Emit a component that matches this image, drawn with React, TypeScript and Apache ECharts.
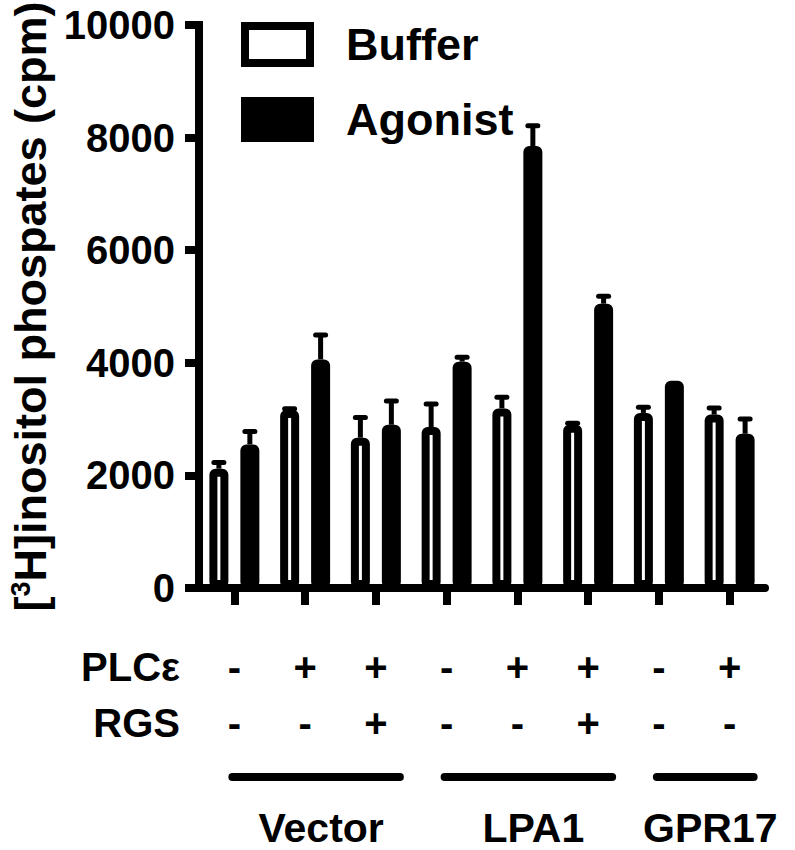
import React, { useEffect, useRef } from 'react';
import * as echarts from 'echarts';

const FONT = '"Liberation Sans", Arial, Helvetica, sans-serif';

const categories = [
  'Vector PLCε- RGS-',
  'Vector PLCε+ RGS-',
  'Vector PLCε+ RGS+',
  'LPA1 PLCε- RGS-',
  'LPA1 PLCε+ RGS-',
  'LPA1 PLCε+ RGS+',
  'GPR17 PLCε- RGS-',
  'GPR17 PLCε+ RGS-',
];
const plcRow = ['-', '+', '+', '-', '+', '+', '-', '+'];
const rgsRow = ['-', '-', '+', '-', '-', '+', '-', '-'];

const bufferMean = [2120, 3160, 2670, 2860, 3190, 2900, 3110, 3080];
const bufferErr = [110, 25, 360, 410, 200, 25, 100, 115];
const agonistMean = [2550, 4060, 2900, 4020, 7850, 5050, 3680, 2740];
const agonistErr = [230, 435, 420, 80, 360, 130, 0, 260];

const yMin = 0;
const yMax = 10000;
const yInterval = 2000;

const groups = [
  { name: 'Vector', from: 0, to: 2 },
  { name: 'LPA1', from: 3, to: 5 },
  { name: 'GPR17', from: 6, to: 7 },
];

const BAR_W = 19;
const BAR_GAP = 0.63;
const HALF_OFF = (BAR_W + BAR_W * BAR_GAP) / 2;

function errRenderer(side: number) {
  return (params: any, api: any) => {
    const i = api.value(0);
    const m = api.value(1);
    const e = api.value(2);
    if (!e) return null;
    const base = api.coord([i, m]);
    const top = api.coord([i, m + e]);
    const x = base[0] + side * HALF_OFF;
    return {
      type: 'group',
      children: [
        {
          type: 'line',
          shape: { x1: x, y1: base[1], x2: x, y2: top[1] },
          style: { stroke: '#000', lineWidth: 5 },
        },
        {
          type: 'line',
          shape: { x1: x - 5, y1: top[1], x2: x + 5, y2: top[1] },
          style: { stroke: '#000', lineWidth: 5, lineCap: 'round' },
        },
      ],
    };
  };
}

export default function App() {
  const ref = useRef<HTMLDivElement>(null);
  useEffect(() => {
    if (!ref.current) return;
    const chart = echarts.init(ref.current, undefined, { renderer: 'svg' });
    const option: any = {
      animation: false,
      backgroundColor: '#fff',
      textStyle: { fontFamily: FONT },
      grid: { left: 199, right: 30, top: 25, bottom: 262, containLabel: false, outerBoundsMode: 'none' },
      legend: {
        data: ['Buffer', 'Agonist'],
        orient: 'vertical',
        left: 241,
        top: 22,
        padding: 0,
        icon: 'rect',
        itemWidth: 65,
        itemHeight: 37,
        itemGap: 30,
        itemStyle: { borderWidth: 8, borderColor: '#000' },
        textStyle: {
          fontFamily: FONT,
          fontSize: 45,
          fontWeight: 'bold',
          color: '#000',
          lineHeight: 37,
          padding: [0, 0, 0, 31],
        },
        selectedMode: false,
      },
      xAxis: {
        type: 'category',
        data: categories,
        axisLine: { show: true, lineStyle: { color: '#000', width: 8 } },
        axisTick: { show: true, alignWithLabel: true, length: 17, lineStyle: { color: '#000', width: 8 } },
        axisLabel: {
          interval: 0,
          margin: 51,
          fontFamily: FONT,
          fontSize: 40,
          fontWeight: 'bold',
          color: '#000',
          lineHeight: 56,
          formatter: (_v: string, idx: number) => `${plcRow[idx]}\n${rgsRow[idx]}`,
        },
        splitLine: { show: false },
      },
      yAxis: {
        type: 'value',
        min: yMin,
        max: yMax,
        interval: yInterval,
        name: '[{sup|3}H]inositol phospates (cpm)',
        nameLocation: 'middle',
        nameGap: 139,
        nameTextStyle: {
          fontFamily: FONT,
          fontSize: 45,
          fontWeight: 'bold',
          color: '#000',
          rich: {
            sup: { fontFamily: FONT, fontSize: 27, fontWeight: 'bold', color: '#000', verticalAlign: 'top' },
          },
        },
        axisLine: { show: true, lineStyle: { color: '#000', width: 8, cap: 'square' } },
        axisTick: { show: true, length: 14, lineStyle: { color: '#000', width: 8 } },
        axisLabel: {
          margin: 24,
          fontFamily: FONT,
          fontSize: 40,
          fontWeight: 'bold',
          color: '#000',
          formatter: (v: number) => String(v),
        },
        splitLine: { show: false },
      },
      series: [
        {
          name: 'Buffer',
          type: 'bar',
          data: bufferMean,
          barWidth: BAR_W,
          barGap: `${BAR_GAP * 100}%`,
          itemStyle: { color: '#fff', borderColor: '#000', borderWidth: 8, borderRadius: 2 },
          z: 2,
        },
        {
          name: 'Agonist',
          type: 'bar',
          data: agonistMean,
          barWidth: BAR_W,
          barGap: `${BAR_GAP * 100}%`,
          itemStyle: { color: '#000', borderColor: '#000', borderWidth: 8, borderRadius: 2 },
          z: 2,
        },
        {
          type: 'custom',
          renderItem: errRenderer(-1),
          data: bufferMean.map((m, i) => [i, m, bufferErr[i]]),
          encode: { x: 0, y: 1 },
          z: 3,
          silent: true,
        },
        {
          type: 'custom',
          renderItem: errRenderer(1),
          data: agonistMean.map((m, i) => [i, m, agonistErr[i]]),
          encode: { x: 0, y: 1 },
          z: 3,
          silent: true,
        },
      ],
    };
    chart.setOption(option);

    const cx = (i: number) => chart.convertToPixel({ xAxisIndex: 0 }, i) as number;
    const textStyle = (t: string, align: string) => ({
      text: t,
      align,
      verticalAlign: 'middle',
      fontFamily: FONT,
      fontSize: 40,
      fontWeight: 'bold',
      fill: '#000',
    });
    const graphics: any[] = [
      { type: 'text', x: 180, y: 667, style: textStyle('PLCε', 'right') },
      { type: 'text', x: 180, y: 723, style: textStyle('RGS', 'right') },
    ];
    groups.forEach((g) => {
      const x1 = cx(g.from) - 6 + 4;
      const x2 = cx(g.to) + 28 - 4;
      graphics.push({
        type: 'line',
        shape: { x1, y1: 777, x2, y2: 777 },
        style: { stroke: '#000', lineWidth: 8, lineCap: 'round' },
      });
      graphics.push({
        type: 'text',
        x: (x1 + x2) / 2 + 5,
        y: 828,
        style: { ...textStyle(g.name, 'center'), fontSize: 41, lineHeight: 40 },
      });
    });
    chart.setOption({ graphic: graphics });

    return () => chart.dispose();
  }, []);
  return <div ref={ref} style={{ position: 'fixed', left: 0, top: 0, width: 795, height: 850 }} />;
}
